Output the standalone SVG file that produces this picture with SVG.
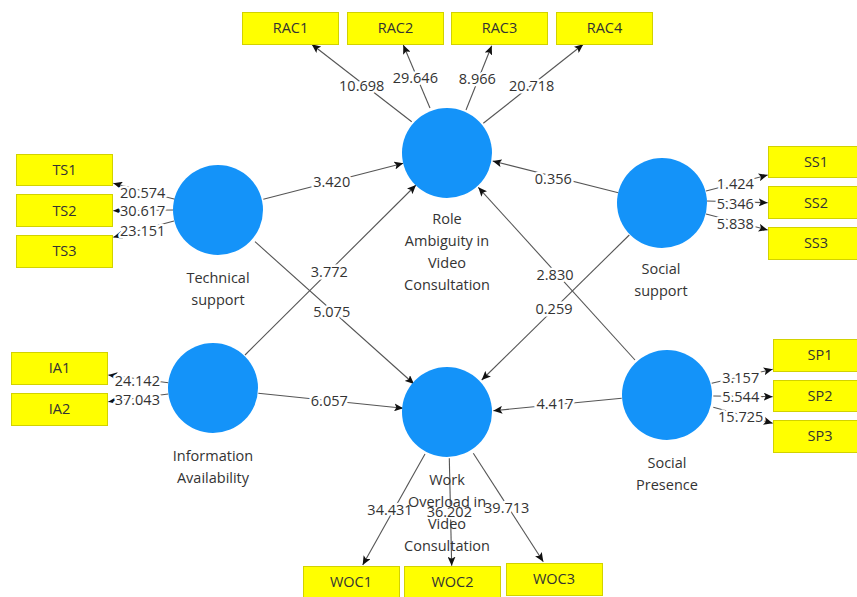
<svg xmlns="http://www.w3.org/2000/svg" width="857" height="597" viewBox="0 0 857 597">
<defs>
<marker id="ah" markerUnits="userSpaceOnUse" markerWidth="10" markerHeight="8" refX="9" refY="4" orient="auto">
<path d="M0,0 L9,4 L0,8 L2,4 z" fill="#111"/>
</marker>
<style>
.c{fill:#1493F9}
.b{fill:#FFFF00;stroke:#D2D200;stroke-width:1}
.t{font-family:"Open Sans","Noto Sans",sans-serif;font-size:14.5px;fill:#333;text-anchor:middle}
.n{font-family:"Open Sans","Noto Sans",sans-serif;font-size:14.5px;fill:#333;text-anchor:middle;paint-order:stroke;stroke:#fff;stroke-width:5px;stroke-linejoin:round}
.l{stroke:#555;stroke-width:1.1;fill:none;marker-end:url(#ah)}
</style>
</defs>
<rect width="857" height="597" fill="#fff"/>
<g id="connectors">
<line class="l" x1="411.7" y1="121.7" x2="311.7" y2="44.3"/>
<line class="l" x1="430" y1="108" x2="403.3" y2="45"/>
<line class="l" x1="466" y1="110" x2="491.7" y2="45.7"/>
<line class="l" x1="483.3" y1="123.3" x2="583.3" y2="44.3"/>
<line class="l" x1="175" y1="199.3" x2="113.3" y2="183.3"/>
<line class="l" x1="173.3" y1="210" x2="113.3" y2="210.7"/>
<line class="l" x1="174" y1="221" x2="113.3" y2="237.3"/>
<line class="l" x1="168.3" y1="382.7" x2="108.3" y2="375"/>
<line class="l" x1="168.3" y1="394" x2="108.3" y2="401.7"/>
<line class="l" x1="706" y1="191" x2="767.7" y2="175"/>
<line class="l" x1="706.7" y1="201" x2="767.7" y2="202.7"/>
<line class="l" x1="706" y1="214" x2="767.7" y2="230"/>
<line class="l" x1="711.7" y1="383.3" x2="772.7" y2="369.3"/>
<line class="l" x1="713.3" y1="396" x2="772.7" y2="396.7"/>
<line class="l" x1="713.3" y1="407.3" x2="772.7" y2="423.3"/>
<line class="l" x1="425" y1="454" x2="362.7" y2="565"/>
<line class="l" x1="449.3" y1="458.3" x2="451.7" y2="565.7"/>
<line class="l" x1="473.3" y1="453.3" x2="543.3" y2="561.7"/>
<line class="l" x1="263.3" y1="199.3" x2="403.3" y2="163.3"/>
<line class="l" x1="245" y1="355" x2="416" y2="185"/>
<line class="l" x1="255" y1="241.7" x2="414" y2="384"/>
<line class="l" x1="258.3" y1="393.3" x2="403.3" y2="408.3"/>
<line class="l" x1="618.3" y1="192.7" x2="492.7" y2="161"/>
<line class="l" x1="635" y1="360" x2="478.3" y2="187.3"/>
<line class="l" x1="629.3" y1="235" x2="481.7" y2="380"/>
<line class="l" x1="621.7" y1="398.3" x2="493.3" y2="410.7"/>
<text class="n" x="361.7" y="91">10.698</text>
<text class="n" x="415.3" y="83">29.646</text>
<text class="n" x="477.3" y="84">8.966</text>
<text class="n" x="531.7" y="91">20.718</text>
<text class="n" x="142.7" y="198">20.574</text>
<text class="n" x="142.7" y="216">30.617</text>
<text class="n" x="142.7" y="236">23.151</text>
<text class="n" x="137.3" y="386">24.142</text>
<text class="n" x="137.3" y="405">37.043</text>
<text class="n" x="735.3" y="189">1.424</text>
<text class="n" x="735.3" y="209">5.346</text>
<text class="n" x="735.3" y="229">5.838</text>
<text class="n" x="740.7" y="383">3.157</text>
<text class="n" x="740.7" y="402">5.544</text>
<text class="n" x="740.7" y="422">15.725</text>
<text class="n" x="390" y="515">34.431</text>
<text class="n" x="449.3" y="517">36.202</text>
<text class="n" x="506.7" y="513">39.713</text>
<text class="n" x="331.7" y="187">3.420</text>
<text class="n" x="329.3" y="277">3.772</text>
<text class="n" x="331.7" y="317">5.075</text>
<text class="n" x="329.3" y="406">6.057</text>
<text class="n" x="553.3" y="184">0.356</text>
<text class="n" x="555" y="280">2.830</text>
<text class="n" x="554" y="314">0.259</text>
<text class="n" x="555" y="409">4.417</text>
</g>
<g id="RA"><circle class="c" cx="447" cy="153" r="45"/><text class="t" x="447" y="224">Role</text><text class="t" x="447" y="246">Ambiguity in</text><text class="t" x="447" y="268">Video</text><text class="t" x="447" y="290">Consultation</text></g>
<g id="WO"><circle class="c" cx="447" cy="412" r="45"/><text class="t" x="447" y="485">Work</text><text class="t" x="447" y="507">Overload in</text><text class="t" x="447" y="529">Video</text><text class="t" x="447" y="551">Consultation</text></g>
<g id="TS"><circle class="c" cx="218" cy="210" r="45"/><text class="t" x="218" y="283">Technical</text><text class="t" x="218" y="305">support</text></g>
<g id="IA"><circle class="c" cx="213" cy="388" r="45"/><text class="t" x="213" y="461">Information</text><text class="t" x="213" y="483">Availability</text></g>
<g id="SS"><circle class="c" cx="662" cy="203" r="45"/><text class="t" x="661" y="274">Social</text><text class="t" x="661" y="296">support</text></g>
<g id="SP"><circle class="c" cx="667" cy="395" r="45"/><text class="t" x="667" y="468">Social</text><text class="t" x="667" y="490">Presence</text></g>
<g id="RAC1"><rect class="b" x="242.5" y="12.5" width="96" height="32"/><text class="t" x="290.5" y="33">RAC1</text></g>
<g id="RAC2"><rect class="b" x="347.5" y="12.5" width="96" height="32"/><text class="t" x="395.5" y="33">RAC2</text></g>
<g id="RAC3"><rect class="b" x="451.5" y="12.5" width="96" height="32"/><text class="t" x="499.5" y="33">RAC3</text></g>
<g id="RAC4"><rect class="b" x="556.5" y="12.5" width="96" height="32"/><text class="t" x="604.5" y="33">RAC4</text></g>
<g id="TS1"><rect class="b" x="16.5" y="154.5" width="96" height="31"/><text class="t" x="64.5" y="175">TS1</text></g>
<g id="TS2"><rect class="b" x="16.5" y="194.5" width="96" height="32"/><text class="t" x="64.5" y="215.5">TS2</text></g>
<g id="TS3"><rect class="b" x="16.5" y="235.5" width="96" height="32"/><text class="t" x="64.5" y="256">TS3</text></g>
<g id="IA1"><rect class="b" x="11.5" y="352.5" width="96" height="32"/><text class="t" x="59.5" y="373">IA1</text></g>
<g id="IA2"><rect class="b" x="11.5" y="393.5" width="96" height="32"/><text class="t" x="59.5" y="414">IA2</text></g>
<g id="SS1"><rect class="b" x="768.5" y="146.5" width="96" height="31"/><text class="t" x="816" y="167">SS1</text></g>
<g id="SS2"><rect class="b" x="768.5" y="186.5" width="96" height="32"/><text class="t" x="816" y="207.5">SS2</text></g>
<g id="SS3"><rect class="b" x="768.5" y="227.5" width="96" height="32"/><text class="t" x="816" y="248">SS3</text></g>
<g id="SP1"><rect class="b" x="773.5" y="339.5" width="96" height="32"/><text class="t" x="820" y="360">SP1</text></g>
<g id="SP2"><rect class="b" x="773.5" y="380.5" width="96" height="31"/><text class="t" x="820" y="401">SP2</text></g>
<g id="SP3"><rect class="b" x="773.5" y="420.5" width="96" height="32"/><text class="t" x="820" y="441">SP3</text></g>
<g id="WOC1"><rect class="b" x="303.5" y="566.5" width="96" height="32"/><text class="t" x="351" y="587">WOC1</text></g>
<g id="WOC2"><rect class="b" x="404.5" y="566.5" width="96" height="32"/><text class="t" x="452.5" y="587">WOC2</text></g>
<g id="WOC3"><rect class="b" x="506.5" y="563.5" width="96" height="32"/><text class="t" x="554" y="584">WOC3</text></g>
</svg>
